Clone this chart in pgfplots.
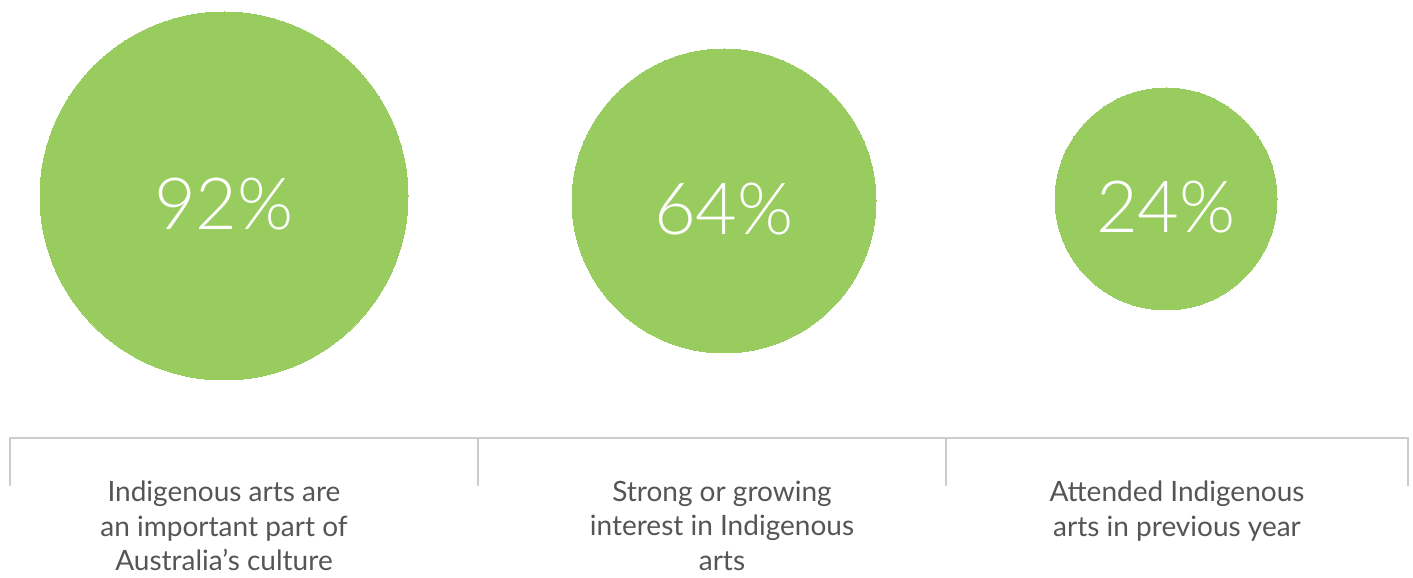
\documentclass[border=0pt]{standalone}
\usepackage{fontspec}
\setmainfont{Lato}
\newfontfamily\lightfont{Lato Light}
\usepackage{pgfplots}
\pgfplotsset{compat=1.18}

\definecolor{bubble}{HTML}{99CC5E}
\definecolor{txt}{HTML}{555555}
\definecolor{rule}{HTML}{CCCCCC}

\pgfplotsset{
  bubble/.style={
    only marks, mark=*, color=bubble,
    mark options={draw=bubble, fill=bubble, line width=0pt},
    point meta=explicit symbolic,
    nodes near coords,
    every node near coord/.style={anchor=center, text=white,
        font=\lightfont\fontsize{36}{40}\selectfont, yshift=-4pt},
  },
}
\tikzset{catlabel/.style={text=txt, align=center, anchor=north,
        font=\fontsize{14}{17.25}\selectfont}}

\begin{document}
\begin{tikzpicture}
\begin{axis}[
    scale only axis,
    width=706.5pt, height=287pt,
    xmin=0, xmax=1413, ymin=0, ymax=574,
    hide axis,
    clip=false,
]
% frame to keep the full page size
\addplot[draw=none] coordinates {(0,0) (1413,574)};

% bubbles (1px = 0.5pt, mark size = radius)
\addplot[bubble, mark size=92pt]   coordinates {(224,378) [92\%]};
\addplot[bubble, mark size=76pt]   coordinates {(724,373) [64\%]};
\addplot[bubble, mark size=55.5pt] coordinates {(1166,375) [24\%]};

% bracket rule
\addplot[rule, line width=1pt] coordinates {(10,88) (10,136) (1408,136) (1408,88)};
\addplot[rule, line width=1pt] coordinates {(478,136) (478,88)};
\addplot[rule, line width=1pt] coordinates {(946,136) (946,88)};

\node[catlabel] at (axis cs:224,100)
    {Indigenous arts are\\an important part of\\Australia’s culture};
\node[catlabel] at (axis cs:722,100)
    {Strong or growing\\interest in Indigenous\\arts};
\node[catlabel] at (axis cs:1177,100)
    {Attended Indigenous\\arts in previous year};
\end{axis}
\end{tikzpicture}
\end{document}
